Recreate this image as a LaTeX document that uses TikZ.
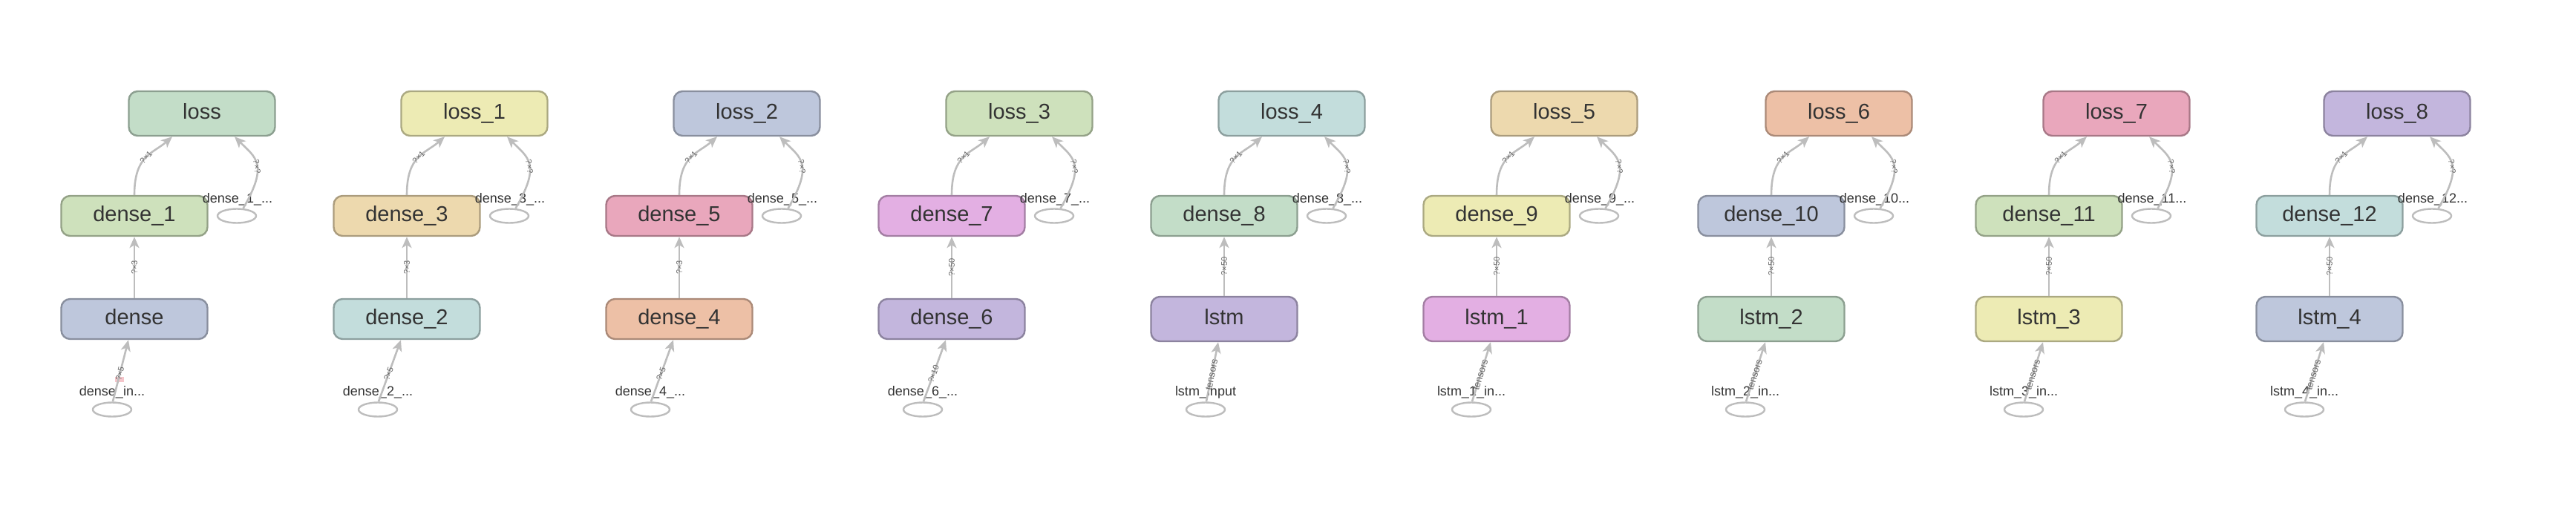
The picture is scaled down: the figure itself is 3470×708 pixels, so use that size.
\documentclass[tikz,border=0pt]{standalone}
\usepackage{fontspec}
\setmainfont{Liberation Sans}
\usetikzlibrary{arrows.meta,shapes.geometric,calc}
\newcommand{\trdots}{...}
\definecolor{cgreen}{HTML}{C3DDC8}
\definecolor{cygreen}{HTML}{CEE1BC}
\definecolor{cblue}{HTML}{BEC7DC}
\definecolor{cyellow}{HTML}{EDEBB4}
\definecolor{ctan}{HTML}{EDD9AE}
\definecolor{cteal}{HTML}{C3DDDC}
\definecolor{cpink}{HTML}{E9A7BC}
\definecolor{cpeach}{HTML}{EDC0A6}
\definecolor{cmagenta}{HTML}{E3AFE3}
\definecolor{clav}{HTML}{C3B6DD}
\definecolor{edgec}{HTML}{BDBDBD}
\definecolor{txt}{HTML}{333333}
\definecolor{elabc}{HTML}{666666}
\definecolor{hl}{HTML}{F5C6CB}
\begin{document}
\begin{tikzpicture}[x=0.5pt,y=-0.5pt,
  opbox/.style={rectangle, rounded corners=6pt, line width=1.2pt, fill=#1, draw=#1!72!black,
    minimum width=98.5pt, inner sep=0pt, text=txt, text height=0.72em, text depth=0pt,
    font=\fontsize{14.5}{16}\selectfont},
  inpt/.style={ellipse, draw=edgec, line width=1.2pt, fill=white, minimum width=26pt,
    minimum height=9.5pt, inner sep=0pt},
  nlab/.style={text=txt, inner sep=0pt, text height=0.72em, text depth=0pt,
    font=\fontsize{9}{10}\selectfont},
  elab/.style={text=elabc, inner sep=0.5pt, font=\fontsize{5.5}{6}\selectfont, sloped},
  elabt/.style={text=elabc, inner sep=0.5pt, font=\fontsize{6.5}{7}\selectfont, sloped},
  flow/.style={draw=edgec, line width=1.3pt, -{Stealth[length=7.5pt,width=6.5pt,inset=2pt]}}
]
\useasboundingbox (0,0) rectangle (3470,708);
\fill[hl] (155,508) rectangle (167,515);
\foreach \L/\ln/\lc/\mn/\mc/\bn/\bc/\bh/\off/\rl/\bl/\ml/\el/\es [count=\i] in {
272/loss/cgreen/dense\_1/cygreen/dense/cblue/27/-30/dense\_1\_\trdots/dense\_in\trdots/?×3/?×5/elab,
639/loss\_1/cyellow/dense\_3/ctan/dense\_2/cteal/27/-39/dense\_3\_\trdots/dense\_2\_\trdots/?×3/?×5/elab,
1006/loss\_2/cblue/dense\_5/cpink/dense\_4/cpeach/27/-39/dense\_5\_\trdots/dense\_4\_\trdots/?×3/?×5/elab,
1373/loss\_3/cygreen/dense\_7/cmagenta/dense\_6/clav/27/-39/dense\_7\_\trdots/dense\_6\_\trdots/?×50/?×10/elab,
1740/loss\_4/cteal/dense\_8/cgreen/lstm/clav/30/-25/dense\_8\_\trdots/lstm\_input/?×50/tensors/elabt,
2107/loss\_5/ctan/dense\_9/cyellow/lstm\_1/cmagenta/30/-34/dense\_9\_\trdots/lstm\_1\_in\trdots/?×50/tensors/elabt,
2477/loss\_6/cpeach/dense\_10/cblue/lstm\_2/cgreen/30/-35/dense\_10\trdots/lstm\_2\_in\trdots/?×50/tensors/elabt,
2851/loss\_7/cpink/dense\_11/cygreen/lstm\_3/cyellow/30/-34/dense\_11\trdots/lstm\_3\_in\trdots/?×50/tensors/elabt,
3229/loss\_8/clav/dense\_12/cteal/lstm\_4/cblue/30/-34/dense\_12\trdots/lstm\_4\_in\trdots/?×50/tensors/elabt}
{
  \node[opbox=\lc, minimum height=30pt] (loss\i) at (\L,153) {\ln};
  \node[opbox=\mc, minimum height=27pt] (mid\i) at (\L-91,291) {\mn};
  \node[opbox=\bc, minimum height=\bh pt] (bot\i) at (\L-91,430) {\bn};
  \node[inpt] (rin\i) at (\L+47,291) {};
  \node[inpt] (bin\i) at (\L-91+\off,552) {};
  \node[nlab] (rlab\i) at (\L+48,266) {\rl};
  \node[nlab] (blab\i) at (\L-91+\off,526) {\bl};
  \draw[flow] (bot\i.north) -- node[elab]{\ml} (mid\i.south);
  \draw[flow] (bin\i.85) -- node[\es, pos=0.45]{\el} ($(bot\i.south)+(-8,0)$);
  \draw[flow] (mid\i.north) .. controls ($(mid\i.north)+(0,-54)$) and ($(loss\i.south)+(-66,23)$)
     .. node[elab, pos=0.5]{?×1} ($(loss\i.south)+(-40,0)$);
  \draw[flow] (rin\i.50) .. controls ($(rin\i.50)+(35,-60)$) and ($(loss\i.south)+(72,28)$)
     .. node[elab, pos=0.45]{?×?} ($(loss\i.south)+(44,0)$);
}
\end{tikzpicture}
\end{document}
